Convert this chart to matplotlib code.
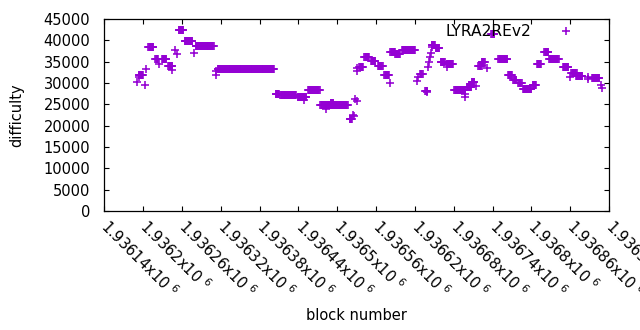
#!/usr/bin/env python3
# lyra2rev2 difficulty per block

import matplotlib
matplotlib.use("Agg")
import matplotlib.pyplot as plt
import numpy as np

plt.rcParams['font.family'] = ['DejaVu Sans']
plt.rcParams['mathtext.default'] = 'regular'

# runs of blocks with the same difficulty (first block, last block, difficulty)
run_start = [1936190, 1936193, 1936193, 1936205, 1936203, 1936208, 1936219, 1936225,
             1936229, 1936239, 1936244, 1936250, 1936252, 1936255, 1936264, 1936279,
             1936281, 1936312, 1936313, 1936315, 1936405, 1936412, 1936439, 1936449,
             1936455, 1936474, 1936483, 1936490, 1936519, 1936525, 1936526, 1936528,
             1936530, 1936530, 1936531, 1936534, 1936542, 1936552, 1936563, 1936573,
             1936581, 1936582, 1936590, 1936600, 1936623, 1936625, 1936628, 1936636,
             1936638, 1936641, 1936642, 1936643, 1936645, 1936647, 1936646, 1936652,
             1936660, 1936669, 1936669, 1936681, 1936697, 1936698, 1936700, 1936704,
             1936708, 1936715, 1936718, 1936723, 1936732, 1936738, 1936749, 1936764,
             1936772, 1936780, 1936787, 1936802, 1936809, 1936820, 1936828, 1936849,
             1936860, 1936862, 1936869, 1936887, 1936887, 1936894, 1936908, 1936909]
run_end = [1936190, 1936193, 1936200, 1936205, 1936203, 1936216, 1936223, 1936225,
           1936236, 1936245, 1936244, 1936250, 1936252, 1936262, 1936276, 1936279,
           1936309, 1936312, 1936313, 1936402, 1936410, 1936436, 1936452, 1936449,
           1936473, 1936516, 1936483, 1936494, 1936523, 1936525, 1936526, 1936528,
           1936530, 1936530, 1936531, 1936540, 1936549, 1936559, 1936570, 1936580,
           1936581, 1936589, 1936597, 1936620, 1936623, 1936625, 1936632, 1936639,
           1936638, 1936641, 1936642, 1936643, 1936645, 1936647, 1936651, 1936658,
           1936666, 1936679, 1936669, 1936698, 1936697, 1936698, 1936705, 1936707,
           1936712, 1936715, 1936723, 1936728, 1936732, 1936743, 1936763, 1936770,
           1936777, 1936785, 1936800, 1936807, 1936815, 1936826, 1936842, 1936857,
           1936860, 1936870, 1936879, 1936887, 1936887, 1936905, 1936908, 1936909]
run_diff = [30300, 31480, 31800, 33210, 29460, 38370, 35560, 34390,
            35560, 34060, 33050, 37620, 36800, 42360, 39780, 36960,
            38600, 32700, 31880, 33210, 27400, 27150, 26700, 26020,
            28360, 24780, 23840, 25250, 21600, 22600, 22200, 26200,
            25700, 33600, 32900, 33820, 36030, 35230, 33990, 31880,
            29930, 37200, 36730, 37740, 30540, 31340, 32110, 28200,
            27800, 33700, 34900, 36000, 36960, 38500, 38910, 38140,
            35000, 34390, 33820, 28360, 26790, 27420, 29140, 29000,
            30300, 29300, 34060, 35000, 33450, 41420, 35560, 31880,
            30710, 29930, 28700, 29530, 34390, 37200, 35560, 33680,
            31480, 32280, 31640, 31480, 31000, 31100, 29530, 28760]

tick_pos = [1936140, 1936200, 1936260, 1936320, 1936380, 1936440, 1936500,
            1936560, 1936620, 1936680, 1936740, 1936800, 1936860, 1936920]
tick_text = ['1.93614x10 $^{6}$', '1.9362x10 $^{6}$', '1.93626x10 $^{6}$', '1.93632x10 $^{6}$',
             '1.93638x10 $^{6}$', '1.93644x10 $^{6}$', '1.9365x10 $^{6}$', '1.93656x10 $^{6}$',
             '1.93662x10 $^{6}$', '1.93668x10 $^{6}$', '1.93674x10 $^{6}$', '1.9368x10 $^{6}$',
             '1.93686x10 $^{6}$', '1.93692x10 $^{6}$']

blocks = np.concatenate([np.arange(s, e + 1) for s, e in zip(run_start, run_end)])
diffs = np.concatenate([np.full(e - s + 1, d) for s, e, d in zip(run_start, run_end, run_diff)])

FS = 10.5


def plot(ax):
    ax.plot(blocks, diffs, '+', color='#9400d3', markersize=5.2, markeredgewidth=1.15,
            label='LYRA2REv2')
    ax.set_xlim(1936140, 1936920)
    ax.set_ylim(0, 45000)
    ax.set_yticks(range(0, 45001, 5000))
    ax.set_xticks(tick_pos)
    ax.set_xticklabels(tick_text, rotation=-45, ha='left', va='center', rotation_mode='anchor')
    ax.tick_params(direction='in', length=3.5, top=True, right=True, labelsize=FS, width=0.8)
    ax.tick_params(axis='x', pad=9)
    ax.tick_params(axis='y', pad=10)
    for s in ax.spines.values():
        s.set_linewidth(0.9)
    ax.set_ylabel('difficulty', fontsize=FS, labelpad=14)
    ax.set_xlabel('block number', fontsize=FS, labelpad=5)
    ax.legend(loc='upper right', bbox_to_anchor=(0.953, 1.012), frameon=False, markerfirst=False,
              fontsize=11.2, handlelength=1.5, handletextpad=1.45, borderaxespad=0.1)


def main():
    fig = plt.figure(figsize=(6.4, 3.3), dpi=100)
    ax = fig.add_axes([104.3 / 640, 1 - 211 / 330, (609 - 104.3) / 640, 192 / 330])
    plot(ax)
    fig.savefig('out.png', dpi=100)


if __name__ == "__main__":
    main()
